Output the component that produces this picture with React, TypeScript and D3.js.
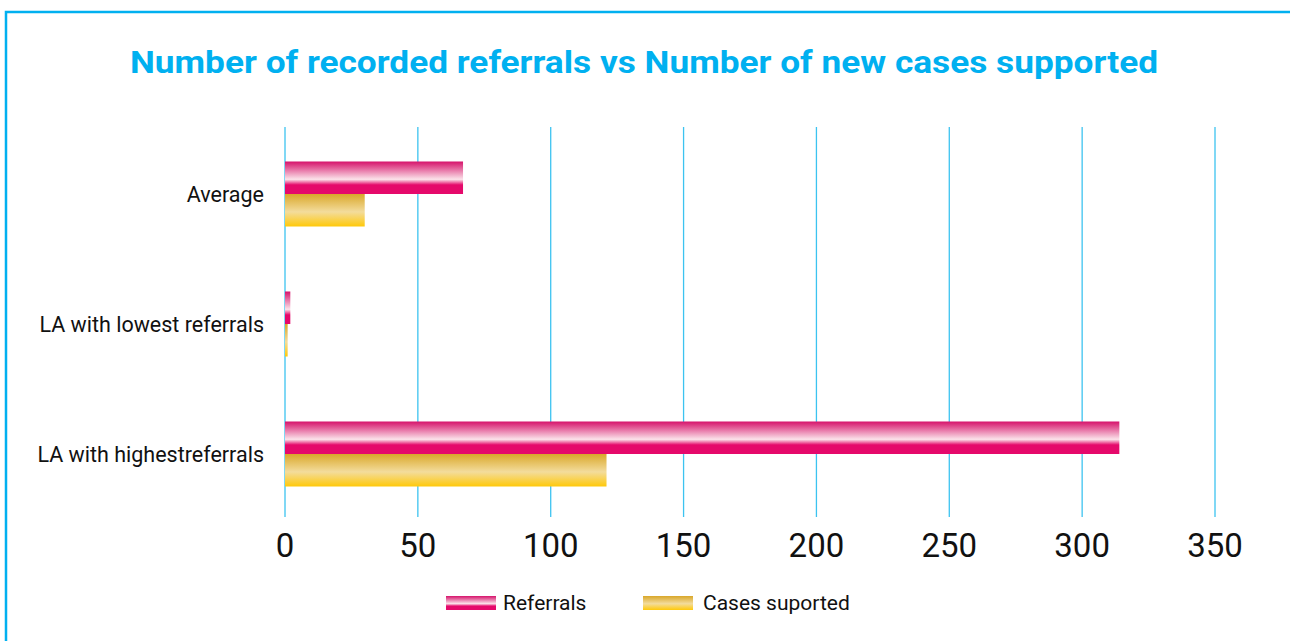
import { useEffect, useRef } from 'react';
import * as d3 from 'd3';

const W = 1290
const H = 641
const margin = { top: 127, right: 75, bottom: 124, left: 285 }
const width = W - margin.left - margin.right
const height = H - margin.top - margin.bottom

const categories = ['Average', 'LA with lowest referrals', 'LA with highestreferrals']
const referrals = [67, 2, 314]
const casesSupported = [30, 1, 121]
const xTicks = [0, 50, 100, 150, 200, 250, 300, 350]
const seriesNames = ['Referrals', 'Cases suported']

const blue = '#00b0f0'

const App = () => {
  const d3svg = useRef(null)

  useEffect(() => {
    if (!d3svg.current) return
    const root = d3.select(d3svg.current)
    root.selectAll('*').remove()

    // gradients for the bars
    const defs = root.append('defs')
    const pink = defs.append('linearGradient').attr('id', 'gPink').attr('x1', 0).attr('y1', 0).attr('x2', 0).attr('y2', 1)
    pink.append('stop').attr('offset', '0%').attr('stop-color', '#d6136b')
    pink.append('stop').attr('offset', '55%').attr('stop-color', '#fbe3ea')
    pink.append('stop').attr('offset', '72%').attr('stop-color', '#e5096b')
    pink.append('stop').attr('offset', '100%').attr('stop-color', '#e5096b')
    const gold = defs.append('linearGradient').attr('id', 'gGold').attr('x1', 0).attr('y1', 0).attr('x2', 0).attr('y2', 1)
    gold.append('stop').attr('offset', '0%').attr('stop-color', '#d9a72a')
    gold.append('stop').attr('offset', '55%').attr('stop-color', '#f3dc9c')
    gold.append('stop').attr('offset', '100%').attr('stop-color', '#ffc90a')

    // frame
    root.append('path')
      .attr('d', `M6,${H} L6,12 L${W},12`)
      .attr('fill', 'none')
      .attr('stroke', blue)
      .attr('stroke-width', 2.5)

    // title
    root.append('text')
      .attr('x', 644)
      .attr('y', 73)
      .attr('text-anchor', 'middle')
      .attr('font-family', 'Roboto, sans-serif')
      .attr('font-weight', 700)
      .attr('font-size', 32)
      .attr('textLength', 1028)
      .attr('lengthAdjust', 'spacingAndGlyphs')
      .attr('fill', blue)
      .text('Number of recorded referrals vs Number of new cases supported')

    const svg = root.append('g').attr('transform', `translate(${margin.left},${margin.top})`)

    const xScale = d3.scaleLinear().domain([0, 350]).range([0, width])
    const yScale = d3.scaleBand().domain(categories).range([2, height + 2]).paddingInner(0.5).paddingOuter(0.25)
    const sub = d3.scaleBand().domain(seriesNames).range([0, yScale.bandwidth()])

    // grid
    svg.selectAll('.grid')
      .data(xTicks)
      .enter()
      .append('line')
      .attr('x1', d => xScale(d))
      .attr('x2', d => xScale(d))
      .attr('y1', 0)
      .attr('y2', height)
      .attr('stroke', '#3cc3f0')
      .attr('stroke-width', 1.3)

    // tick labels
    svg.selectAll('.tick-label')
      .data(xTicks)
      .enter()
      .append('text')
      .attr('x', d => xScale(d))
      .attr('y', 430)
      .attr('text-anchor', 'middle')
      .attr('font-family', 'Roboto, sans-serif')
      .attr('font-size', 33)
      .attr('fill', '#111')
      .text(d => d)

    // category labels
    svg.selectAll('.cat')
      .data(categories)
      .enter()
      .append('text')
      .attr('x', -21)
      .attr('y', d => (yScale(d) ?? 0) + yScale.bandwidth() / 2)
      .attr('dy', '0.35em')
      .attr('text-anchor', 'end')
      .attr('font-family', 'Roboto, sans-serif')
      .attr('font-size', 21.5)
      .attr('fill', '#111')
      .text(d => d)

    const series = [
      { name: seriesNames[0], values: referrals, fill: 'url(#gPink)' },
      { name: seriesNames[1], values: casesSupported, fill: 'url(#gGold)' },
    ]

    series.forEach(s => {
      svg.selectAll(null)
        .data(categories)
        .enter()
        .append('rect')
        .attr('x', xScale(0))
        .attr('y', d => (yScale(d) ?? 0) + (sub(s.name) ?? 0))
        .attr('width', (_d, i) => xScale(s.values[i]) - xScale(0))
        .attr('height', sub.bandwidth())
        .attr('fill', s.fill)
    })

    // legend
    const legendPos = [446, 643]
    series.forEach((s, i) => {
      const g = root.append('g').attr('transform', `translate(${legendPos[i]},596)`)
      g.append('rect').attr('width', 50).attr('height', 14).attr('fill', s.fill)
      g.append('text')
        .attr('x', i === 0 ? 57 : 60)
        .attr('y', 7)
        .attr('dy', '0.35em')
        .attr('font-family', 'Roboto, sans-serif')
        .attr('font-size', 21)
        .attr('fill', '#111')
        .text(s.name)
    })
  }, [])

  return (
    <svg
      width={W}
      height={H}
      style={{ position: 'absolute', left: 0, top: 0, background: '#fff' }}
      ref={d3svg}
    ></svg>
  )
}

export default App;
